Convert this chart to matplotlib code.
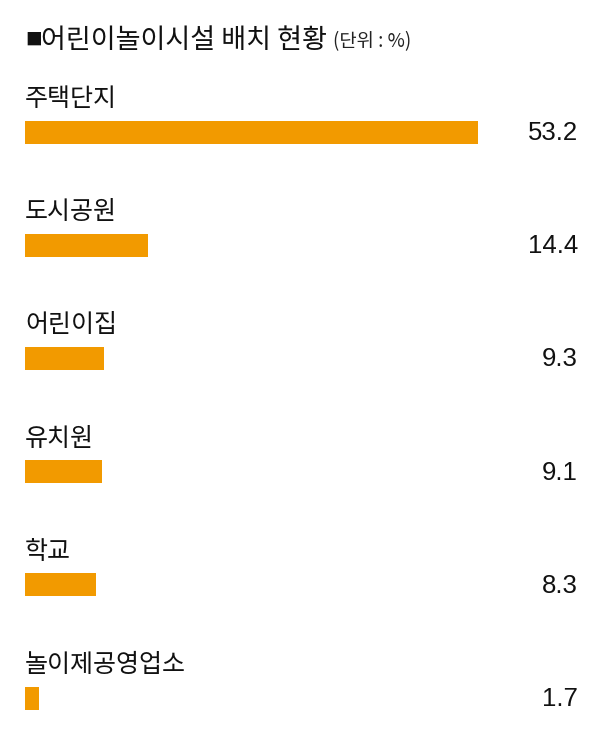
import matplotlib
matplotlib.use("Agg")
import matplotlib.pyplot as plt
import matplotlib.transforms as mtrans

categories = ["주택단지", "도시공원", "어린이집", "유치원", "학교", "놀이제공영업소"]
values = [53.2, 14.4, 9.3, 9.1, 8.3, 1.7]
title = "어린이놀이시설 배치 현황"
unit = "(단위 : %)"

plt.rcParams['font.family'] = ['Noto Sans CJK KR', 'DejaVu Sans']
W, H = 600, 747
fig = plt.figure(figsize=(W/100, H/100), dpi=100)
fig.patch.set_facecolor("white")

# axes: left at 25px, 53.2 ends at 478px
ax = fig.add_axes([25/W, 0, (478-25)/W, 1])
ax.set_xlim(0, max(values))
sp = 113.2
ax.set_ylim(5 + (H-698)/sp, -132/sp)
ax.axis('off')

color = "#F29A00"
ys = list(range(len(categories)))
ax.barh(ys, values, height=23/sp, color=color, align='center')
tr = mtrans.blended_transform_factory(fig.transFigure, ax.transData)
for y, c, v in zip(ys, categories, values):
    ax.text(0, y - 33/sp, c, fontsize=18, va='center', ha='left', color='#111111')
    ax.text(578/W, y + 1/sp, f"{v}", transform=tr,
            fontsize=18.5, va='center', ha='right', color='#111111',
            family=['Liberation Sans', 'DejaVu Sans'])

fig.text(25/W, 1 - 40/H, "■", fontsize=12, va='center', ha='left', color='#111111')
fig.text(41/W, 1 - 40/H, title, fontsize=19.5, va='center', ha='left', color='#111111')
fig.text(333/W, 1 - 42/H, unit, fontsize=13.5, va='center', ha='left', color='#222222',
         family=['Noto Sans CJK KR'])

fig.savefig("out.png", dpi=100, facecolor="white")
